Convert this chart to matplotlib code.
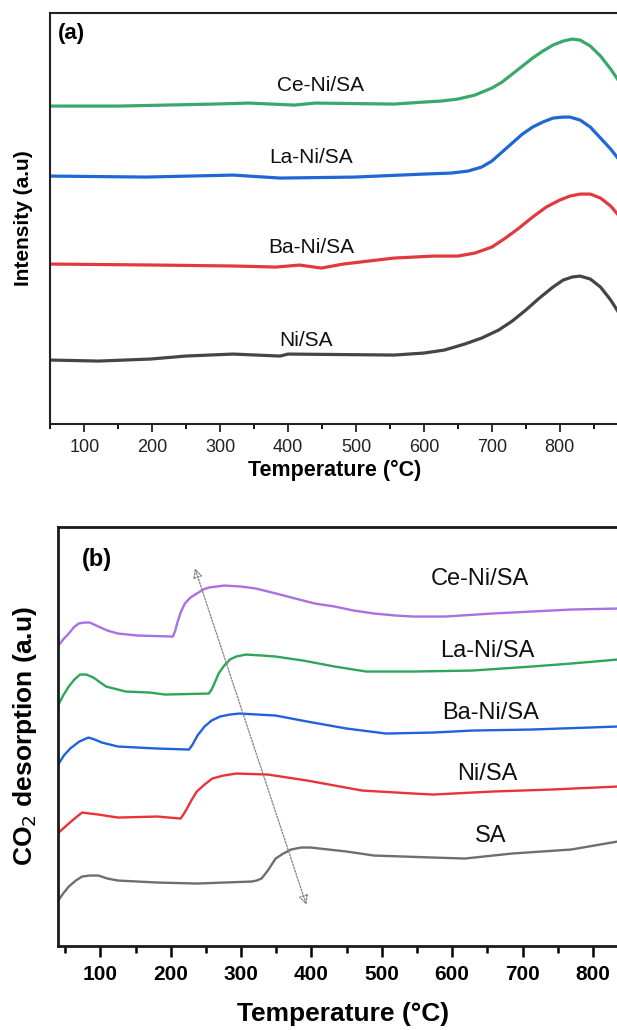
import matplotlib
matplotlib.use("Agg")
import matplotlib.pyplot as plt
from matplotlib.ticker import MultipleLocator

plt.rcParams['font.family'] = ['Liberation Sans', 'DejaVu Sans']

# ---------------- panel (a): H2-TPR ----------------
temp_ce_a = [50, 150, 290, 342, 409, 440, 556, 600, 625, 650, 675, 700, 715, 730, 745, 760, 775,
             790, 805, 818, 830, 845, 860, 875, 890, 900]
int_ce_a = [318, 318, 320, 321, 319, 321, 320, 322, 323, 325, 329, 336, 342, 350, 358, 366, 373,
            379, 383, 385, 384, 378, 368, 355, 340, 329]

temp_la_a = [50, 190, 319, 388, 498, 600, 640, 665, 685, 700, 715, 730, 745, 760, 775, 790, 805,
             815, 830, 845, 860, 875, 890, 900]
int_la_a = [248, 247, 249, 246, 247, 250, 251, 253, 257, 263, 272, 281, 290, 297, 302, 306, 307,
            307, 304, 297, 286, 275, 262, 254]

temp_ba_a = [50, 208, 324, 382, 417, 449, 481, 556, 614, 650, 675, 700, 720, 740, 760, 780, 800,
             815, 830, 845, 860, 875, 890, 900]
int_ba_a = [160, 159, 158, 157, 159, 156, 160, 166, 168, 168, 171, 177, 186, 196, 207, 217, 224,
            228, 230, 230, 226, 218, 206, 197]

temp_ni_a = [50, 121, 197, 249, 319, 388, 400, 556, 600, 630, 660, 685, 710, 730, 750, 770, 790,
             805, 818, 830, 845, 860, 875, 890, 900]
int_ni_a = [64, 63, 65, 68, 70, 68, 70, 69, 71, 74, 80, 86, 94, 103, 114, 126, 137,
            144, 147, 148, 145, 137, 124, 108, 98]

labels_a = ["Ce-Ni/SA", "La-Ni/SA", "Ba-Ni/SA", "Ni/SA"]
label_x_a = [447, 434, 434, 427]
label_y_a = [339, 267, 177, 84]

# ---------------- panel (b): CO2-TPD ----------------
temp_ce_b = [39, 47, 55, 62, 69, 77, 85, 97, 110, 125, 153, 203, 206, 209, 214, 220, 228, 237,
             246, 254, 265, 276, 300, 321, 350, 377, 405, 433, 460, 489, 520, 545, 590, 657,
             713, 769, 835, 900]
int_ce_b = [299, 306, 312, 318, 322, 323, 323, 319, 315, 312, 310, 309, 314, 322, 333, 342, 348,
            352, 356, 358, 359, 360, 359, 357, 352, 347, 342, 339, 335, 332, 330, 329, 329, 332,
            334, 336, 337, 338]

temp_la_b = [39, 47, 55, 63, 71, 80, 90, 108, 136, 170, 192, 254, 258, 262, 268, 276, 284, 293,
             307, 330, 349, 388, 433, 478, 545, 629, 713, 769, 835, 900]
int_la_b = [239, 250, 259, 266, 271, 271, 268, 259, 254, 253, 251, 252, 256, 262, 272, 280, 286,
            289, 291, 290, 289, 285, 279, 274, 274, 275, 279, 282, 286, 289]

temp_ba_b = [39, 48, 57, 70, 83, 92, 102, 125, 181, 226, 231, 238, 248, 258, 270, 284, 298, 349,
             394, 450, 506, 573, 629, 713, 835, 900]
int_ba_b = [180, 190, 197, 204, 208, 206, 203, 199, 197, 196, 201, 210, 219, 225, 229, 231, 232,
            230, 224, 217, 212, 213, 215, 216, 219, 220]

temp_ni_b = [39, 47, 55, 65, 74, 85, 97, 125, 181, 214, 218, 223, 230, 237, 248, 259, 275, 293,
             338, 394, 433, 472, 545, 573, 657, 741, 835, 900]
int_ni_b = [112, 117, 122, 128, 133, 132, 131, 128, 129, 127, 131, 137, 146, 154, 161, 167, 170,
            172, 171, 165, 160, 155, 152, 151, 154, 156, 159, 161]

temp_sa_b = [39, 47, 55, 65, 74, 85, 97, 110, 125, 181, 237, 315, 322, 329, 338, 349, 360, 371,
             385, 399, 450, 489, 573, 618, 685, 769, 835, 900]
int_sa_b = [44, 52, 59, 65, 69, 70, 70, 67, 65, 63, 62, 64, 65, 67, 75, 87, 92, 96, 98, 98, 94,
            90, 88, 87, 92, 96, 104, 112]

labels_b = ["Ce-Ni/SA", "La-Ni/SA", "Ba-Ni/SA", "Ni/SA", "SA"]
label_x_b = [640, 650, 654, 650, 654]
label_y_b = [367, 295, 233, 172, 110]

# shift trend arrow (temperature, intensity) of both ends
arrow_start = (233, 380)
arrow_end = (394, 38)

fig = plt.figure(figsize=(6.17, 10.30), dpi=100)

# ----- panel (a)
ax1 = fig.add_axes([0.0818, 0.5883, 0.9355, 0.399])
ax1.plot(temp_ce_a, int_ce_a, color="#3aa86b", lw=2.3)
ax1.plot(temp_la_a, int_la_a, color="#1f66d6", lw=2.3)
ax1.plot(temp_ba_a, int_ba_a, color="#e0393e", lw=2.3)
ax1.plot(temp_ni_a, int_ni_a, color="#454545", lw=2.3)
for t, x, y in zip(labels_a, label_x_a, label_y_a):
    ax1.text(x, y, t, fontsize=15, ha="center", va="center", color="#111111")
ax1.set_xlim(50, 900)
ax1.set_ylim(0, 411)
ax1.set_yticks([])
ax1.set_xticks([100, 200, 300, 400, 500, 600, 700, 800])
ax1.xaxis.set_minor_locator(MultipleLocator(50))
ax1.tick_params(axis="x", which="major", direction="out", length=6, width=1.3,
                labelsize=13, pad=5, colors="#222222")
ax1.tick_params(axis="x", which="minor", direction="out", length=3.5, width=1.3)
for s in ax1.spines.values():
    s.set_linewidth(1.5)
    s.set_color("#222222")
ax1.set_xlabel("Temperature (°C)", fontsize=15.5, fontweight="bold")
ax1.xaxis.set_label_coords(0.493, -0.088)
ax1.set_ylabel("Intensity (a.u)", fontsize=15, fontweight="bold")
ax1.yaxis.set_label_coords(-0.03, 0.5)
ax1.text(0.013, 0.975, "(a)", transform=ax1.transAxes, fontsize=16,
         fontweight="bold", ha="left", va="top")

# ----- panel (b)
ax2 = fig.add_axes([0.0932, 0.082, 0.9817, 0.4066])
ax2.plot(temp_ce_b, int_ce_b, color="#a970e0", lw=1.7)
ax2.plot(temp_la_b, int_la_b, color="#2ea65a", lw=1.7)
ax2.plot(temp_ba_b, int_ba_b, color="#1f62dc", lw=1.7)
ax2.plot(temp_ni_b, int_ni_b, color="#e83338", lw=1.7)
ax2.plot(temp_sa_b, int_sa_b, color="#6e6e6e", lw=1.7)
for t, x, y in zip(labels_b, label_x_b, label_y_b):
    ax2.text(x, y, t, fontsize=17, ha="center", va="center", color="#111111")
ax2.annotate("", xy=arrow_start, xytext=arrow_end,
             arrowprops=dict(arrowstyle="<|-|>", color="#8a8a8a", lw=1.0,
                             linestyle=(0, (1.2, 1.2)), mutation_scale=14,
                             fill=False))
ax2.set_xlim(39, 900)
ax2.set_ylim(0, 418.8)
ax2.set_yticks([])
ax2.set_xticks([100, 200, 300, 400, 500, 600, 700, 800])
ax2.xaxis.set_minor_locator(MultipleLocator(50))
ax2.tick_params(axis="x", which="major", direction="out", length=8, width=1.8,
                labelsize=15, pad=6)
ax2.tick_params(axis="x", which="minor", direction="out", length=5, width=1.8)
for lab in ax2.get_xticklabels():
    lab.set_fontweight("bold")
for s in ax2.spines.values():
    s.set_linewidth(2.0)
    s.set_color("#1a1a1a")
ax2.set_xlabel("Temperature (°C)", fontsize=19, fontweight="bold")
ax2.xaxis.set_label_coords(0.471, -0.135)
ax2.set_ylabel("CO$_2$ desorption (a.u)", fontsize=19, fontweight="bold")
ax2.yaxis.set_label_coords(-0.03, 0.5)
ax2.text(0.04, 0.95, "(b)", transform=ax2.transAxes, fontsize=17,
         fontweight="bold", ha="left", va="top")

fig.savefig("out.png", dpi=100)
